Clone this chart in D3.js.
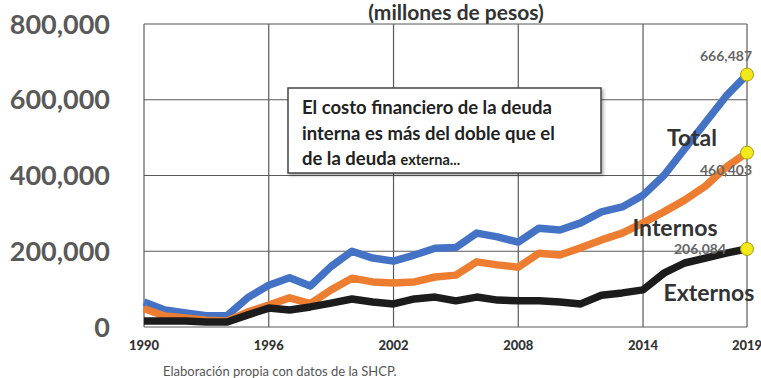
<!DOCTYPE html>
<html>
<head>
<meta charset="utf-8">
<script src="https://cdn.jsdelivr.net/npm/d3@7"></script>
<style>
  body { margin: 0; background: #fff; }
  svg { display: block; font-family: Lato, "Open Sans", sans-serif; }
</style>
</head>
<body>
<svg width="761" height="378"></svg>
<script>
// data (millones de pesos)
var years = d3.range(1990, 2020);
var total = [66000, 45000, 37000, 30000, 30000, 78000, 110000, 130000, 108000, 160000,
  200000, 182000, 174000, 190000, 208000, 210000, 248000, 238000, 224000, 261000,
  256000, 275000, 304000, 317000, 348000, 400000, 470000, 540000, 610000, 666487];
var internos = [48000, 29000, 24000, 18000, 16000, 40000, 58000, 77000, 62000, 98000,
  129000, 119000, 116000, 119000, 132000, 137000, 172000, 164000, 158000, 195000,
  190000, 209000, 230000, 248000, 275000, 304000, 335000, 372000, 422000, 460403];
var externos = [16000, 16000, 16000, 13000, 13000, 32000, 50000, 45000, 53000, 63000,
  74000, 66000, 61000, 74000, 79000, 69000, 79000, 71000, 69000, 69000,
  66000, 61000, 84000, 90000, 98000, 142000, 169000, 182000, 195000, 206084];
var seriesNames = ["Total", "Internos", "Externos"];
var seriesColors = ["#4472c4", "#ed7d31", "#1c1c1c"];
var yTicks = [0, 200000, 400000, 600000, 800000];
var xTicks = [1990, 1996, 2002, 2008, 2014, 2019];
var noteLines = ["El costo financiero de la deuda", "interna es más del doble que el", "de la deuda "];

var svg = d3.select("svg");

var x = d3.scaleLinear().domain([1990, 2019]).range([144, 747]);
var y = d3.scaleLinear().domain([0, 800000]).range([327, 24]);

var fmt = d3.format(",");

// title
svg.append("text")
  .attr("x", 456).attr("y", 20)
  .attr("text-anchor", "middle")
  .style("font-size", "21px").style("font-weight", "bold").style("fill", "#333")
  .text("(millones de pesos)");

// grid
var grid = svg.append("g").style("stroke", "#5a5a5a").style("stroke-width", 1.2);
grid.selectAll("line.h").data(yTicks).enter().append("line")
  .attr("x1", x(1990)).attr("x2", x(2019))
  .attr("y1", function(d) { return y(d); }).attr("y2", function(d) { return y(d); });
grid.selectAll("line.v").data(xTicks).enter().append("line")
  .attr("y1", y(0)).attr("y2", y(800000))
  .attr("x1", function(d) { return x(d); }).attr("x2", function(d) { return x(d); });

// y labels
svg.append("g").selectAll("text").data(yTicks).enter().append("text")
  .attr("x", 110).attr("y", function(d) { return y(d); })
  .attr("dy", "0.36em").attr("text-anchor", "end")
  .style("font-size", "27px").style("font-weight", "bold").style("fill", "#595959")
  .text(function(d) { return fmt(d); });

// x labels
svg.append("g").selectAll("text").data(xTicks).enter().append("text")
  .attr("x", function(d) { return x(d); }).attr("y", 350)
  .attr("text-anchor", "middle")
  .style("font-size", "13px").style("font-weight", "900").style("fill", "#333")
  .text(function(d) { return d; });

// note box
var defs = svg.append("defs");
var f = defs.append("filter").attr("id", "shadow").attr("x", "-10%").attr("y", "-10%")
  .attr("width", "130%").attr("height", "140%");
f.append("feDropShadow").attr("dx", 2).attr("dy", 2).attr("stdDeviation", 1.5)
  .attr("flood-color", "#000").attr("flood-opacity", 0.3);

svg.append("rect")
  .attr("x", 288).attr("y", 88).attr("width", 313).attr("height", 85)
  .style("fill", "#fff").style("stroke", "#444").style("stroke-width", 1.5)
  .attr("filter", "url(#shadow)");

var note = svg.append("g");
noteLines.forEach(function(t, i) {
  var tx = note.append("text")
    .attr("x", 302).attr("y", 114 + i * 25.5)
    .style("font-size", "18.5px").style("font-weight", "bold").style("fill", "#222")
    .text(t);
  if (i == 2) {
    tx.append("tspan").style("font-size", "14.5px").text("externa...");
  }
});

// lines
var line = d3.line()
  .x(function(d, i) { return x(years[i]); })
  .y(function(d) { return y(d); });

var data = [total, internos, externos];
svg.append("g").selectAll("path").data(data).enter().append("path")
  .attr("d", line)
  .style("fill", "none")
  .style("stroke", function(d, i) { return seriesColors[i]; })
  .style("stroke-width", 7.5)
  .style("stroke-linejoin", "round");

// end labels
var endLabels = [
  {v: total[29], dx: 5, dy: -14},
  {v: internos[29], dx: 5, dy: 22},
  {v: externos[29], dx: -21, dy: 5}
];
svg.append("g").selectAll("text").data(endLabels).enter().append("text")
  .attr("x", function(d) { return x(2019) + d.dx; })
  .attr("y", function(d) { return y(d.v) + d.dy; })
  .attr("text-anchor", "end")
  .style("font-size", "14px").style("font-weight", "bold").style("fill", "#666")
  .text(function(d) { return fmt(d.v); });

// yellow points
svg.append("g").selectAll("circle").data(data).enter().append("circle")
  .attr("cx", x(2019))
  .attr("cy", function(d) { return y(d[29]); })
  .attr("r", 6.5)
  .style("fill", "#f2e81c").style("stroke", "#a89a10").style("stroke-width", 1);

// series names
var namePos = [{x: 692, y: 138}, {x: 675, y: 228}, {x: 709, y: 293}];
svg.append("g").selectAll("text").data(seriesNames).enter().append("text")
  .attr("x", function(d, i) { return namePos[i].x; })
  .attr("y", function(d, i) { return namePos[i].y; })
  .attr("dy", "0.35em").attr("text-anchor", "middle")
  .style("font-size", "23px").style("font-weight", "bold").style("fill", "#333")
  .text(function(d) { return d; });

// source
svg.append("text")
  .attr("x", 163).attr("y", 376)
  .style("font-size", "13px").style("fill", "#555")
  .text("Elaboración propia con datos de la SHCP.");
</script>
</body>
</html>
